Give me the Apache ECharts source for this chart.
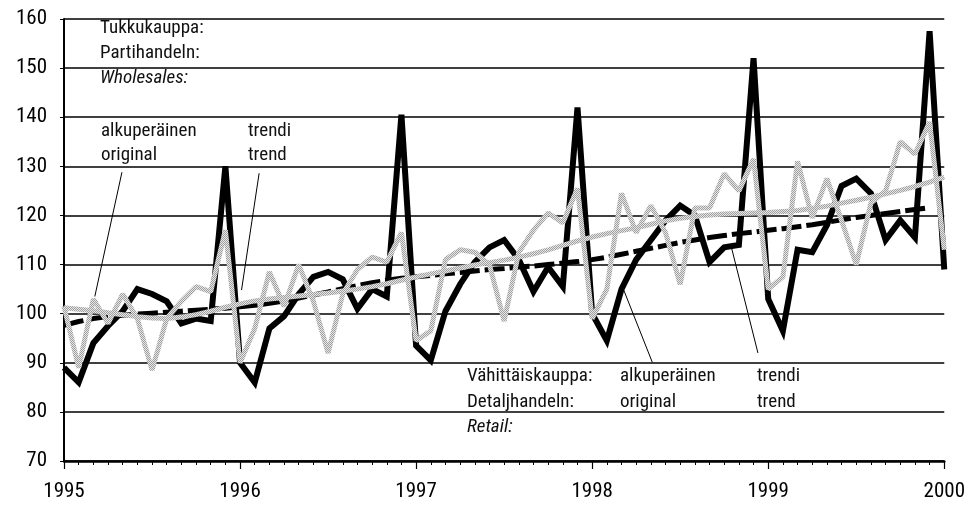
<!DOCTYPE html>
<html>
<head>
<meta charset="utf-8">
<script src="https://cdn.jsdelivr.net/npm/echarts@6/dist/echarts.min.js"></script>
<style>
  html, body { margin: 0; padding: 0; background: #fff; }
  #chart { width: 968px; height: 507px; }
</style>
</head>
<body>
<div id="chart"></div>
<script>
// monthly index 0 = Jan 1995 ... 60 = Jan 2000
const yearLabels = ['1995', '1996', '1997', '1998', '1999', '2000'];

// Vähittäiskauppa / retail
const retailOriginal = [
  89, 86, 94, 97.5, 100.5, 105, 104, 102.5, 98, 99, 98.5, 130,
  90, 86, 97, 99.5, 104, 107.5, 108.5, 107, 101, 105, 103.5, 140.5,
  93.5, 90.5, 100.5, 106, 110.5, 113.5, 115, 111, 104.5, 109.5, 105.5, 142,
  100, 94.5, 105, 111, 115, 119, 122, 120, 110.5, 113.5, 114, 152,
  103, 96.5, 113, 112.5, 118, 126, 127.5, 124.5, 115, 119, 115.5, 157.5,
  109
];
const retailTrend = [
  97.6, 98.4, 99, 99.4, 99.7, 99.9, 100.1, 100.3, 100.5, 100.7, 100.9, 101.1,
  101.4, 101.7, 102.1, 102.6, 103.2, 103.8, 104.4, 105.1, 105.7, 106.3, 106.8, 107.2,
  107.5, 107.8, 108.1, 108.4, 108.7, 109, 109.2, 109.5, 109.7, 110, 110.3, 110.6,
  111, 111.5, 112.1, 112.7, 113.3, 113.9, 114.5, 115, 115.5, 115.9, 116.3, 116.6,
  117, 117.3, 117.7, 118.1, 118.6, 119.1, 119.6, 120, 120.4, 120.8, 121.2, 121.6
];

// Tukkukauppa / wholesales
const wholesaleOriginal = [
  101.5, 89, 103, 98, 104, 99, 88.5, 99, 102.5, 105.5, 104.5, 117,
  90, 97, 108.5, 101.5, 110, 102.5, 92, 104, 109, 111.5, 110.5, 116.5,
  94.5, 96.5, 111, 113, 112.5, 110, 98.5, 112.5, 117, 120.5, 118.5, 125.5,
  99, 105, 124.5, 116.5, 122, 116.5, 106, 121.5, 121.5, 128.5, 125, 131.5,
  105, 107.5, 131, 119.5, 127.5, 119, 110, 122.5, 125, 135, 132.5, 139,
  113
];
const wholesaleTrend = [
  101.2, 100.9, 100.6, 100.2, 99.8, 99.4, 99.1, 99, 99.3, 99.8, 100.5, 101.3,
  102, 102.6, 103, 103.3, 103.6, 103.9, 104.2, 104.6, 105, 105.5, 106.1, 106.8,
  107.5, 108.1, 108.7, 109.3, 109.9, 110.4, 110.9, 111.5, 112.2, 113, 113.9, 114.8,
  115.6, 116.3, 116.9, 117.5, 118.2, 118.9, 119.4, 119.8, 120.1, 120.3, 120.4, 120.5,
  120.6, 120.8, 121, 121.4, 121.9, 122.5, 123.1, 123.7, 124.4, 125.1, 125.9, 126.8,
  127.8
];

// leader lines for the labels, in data coordinates [month, value]
const leaderLines = [
  [[3.95, 128.8], [2.1, 103.5]],
  [[13.3, 128.6], [12.1, 104.8]],
  [[40.1, 90.1], [38.1, 105.2]],
  [[47.3, 92], [45.5, 113.4]]
];

const font = "'Roboto Condensed', 'DejaVu Sans Condensed', sans-serif";

function withIndex(arr) {
  return arr.map(function (v, i) { return [i, v]; });
}

function halftone(light, dark) {
  const c = document.createElement('canvas');
  c.width = 2;
  c.height = 2;
  const g = c.getContext('2d');
  g.fillStyle = light;
  g.fillRect(0, 0, 2, 2);
  g.fillStyle = dark;
  g.fillRect(0, 0, 1, 1);
  g.fillRect(1, 1, 1, 1);
  return { image: c, repeat: 'repeat' };
}

const grey = halftone('#e6e6e6', '#a0a0a0');

function label(text, x, y, italic) {
  return {
    type: 'text',
    x: x,
    y: y,
    style: {
      text: text,
      font: (italic ? 'italic ' : '') + '19px ' + font,
      fill: '#111'
    }
  };
}

const chart = echarts.init(document.getElementById('chart'));
chart.setOption({
  animation: false,
  backgroundColor: '#fff',
  grid: { left: 64, right: 19, top: 19, bottom: 46 },
  xAxis: {
    type: 'value',
    min: 0,
    max: 60,
    interval: 12,
    axisLine: { lineStyle: { color: '#000', width: 2.5 } },
    axisTick: { show: true, length: 8, lineStyle: { color: '#000', width: 1.2 } },
    minorTick: { show: true, splitNumber: 12, length: 4, lineStyle: { color: '#000', width: 1 } },
    splitLine: { show: false },
    axisLabel: {
      color: '#000',
      fontSize: 21,
      fontFamily: font,
      margin: 20,
      formatter: function (v) { return yearLabels[v / 12]; }
    }
  },
  yAxis: {
    type: 'value',
    min: 70,
    max: 160,
    interval: 10,
    axisLine: { show: true, lineStyle: { color: '#000', width: 2 } },
    axisTick: { show: true, length: 4, lineStyle: { color: '#000' } },
    splitLine: { show: true, lineStyle: { color: '#000', width: 1.5 } },
    axisLabel: { color: '#000', fontSize: 21, fontFamily: font, margin: 17 }
  },
  series: [
    {
      name: 'retail trend',
      type: 'line',
      data: withIndex(retailTrend),
      symbol: 'none',
      lineStyle: { color: '#000', width: 5, type: [20, 5] }
    },
    {
      name: 'retail original',
      type: 'line',
      data: withIndex(retailOriginal),
      symbol: 'none',
      lineStyle: { color: '#000', width: 6, join: 'miter' }
    },
    {
      name: 'wholesale trend',
      type: 'line',
      data: withIndex(wholesaleTrend),
      symbol: 'none',
      lineStyle: { color: grey, width: 5 }
    },
    {
      name: 'wholesale original',
      type: 'line',
      data: withIndex(wholesaleOriginal),
      symbol: 'none',
      lineStyle: { color: grey, width: 5 }
    },
    {
      name: 'leaders',
      type: 'lines',
      coordinateSystem: 'cartesian2d',
      silent: true,
      data: leaderLines.map(function (c) { return { coords: c }; }),
      lineStyle: { color: '#000', width: 1, opacity: 1 }
    }
  ],
  graphic: [
    label('Tukkukauppa:', 100, 19),
    label('Partihandeln:', 100, 44),
    label('Wholesales:', 100, 69, true),
    label('alkuperäinen', 101, 122),
    label('original', 101, 146),
    label('trendi', 248, 122),
    label('trend', 248, 146),
    label('Vähittäiskauppa:', 467, 367),
    label('Detaljhandeln:', 467, 393),
    label('Retail:', 467, 418, true),
    label('alkuperäinen', 620, 367),
    label('original', 620, 393),
    label('trendi', 757, 367),
    label('trend', 757, 393)
  ]
});
</script>
</body>
</html>
